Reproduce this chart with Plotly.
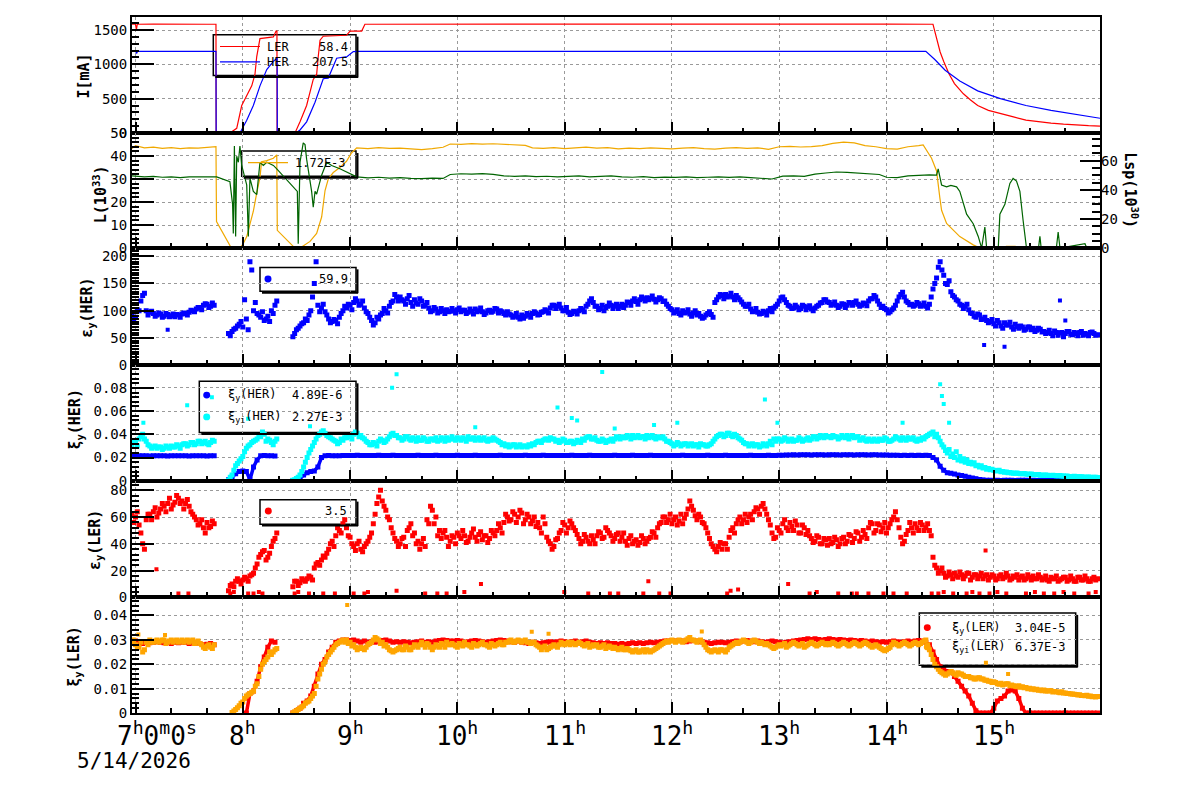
import pandas as pd
import plotly.graph_objects as go

W, H = 1200, 798
FONT = "DejaVu Sans Mono"
BASE = pd.Timestamp("2026-05-14 07:00:00")


def tm(m):
    return BASE + pd.to_timedelta(m, unit="m")


def X(px):
    return px / W


def Y(px):
    return 1 - px / H


# ---------------- panel 1 : beam currents (minutes after 7:00, mA) ----------------
LER_T = [-2, 0, 0.5, 1, 10, 20, 30, 40, 45, 45.1, 52.8, 56.6, 59.4, 62.2, 65, 66.8, 67.8, 69.6, 77.1, 78.6, 79.1,
         79.2, 89.2, 92, 95.7, 99.4, 101.3, 102.2, 103.2, 105, 118, 120, 126.5, 128.3, 180, 240, 300, 360, 420,
         446, 448, 450, 452, 455, 458, 463, 467, 471, 477, 484, 491, 498, 505, 512, 519, 526, 533, 539.4]
LER_I = [1585, 1586, 1505, 1585, 1588, 1584, 1586, 1585, 1585, 0, 0, 67, 400, 543, 686, 853, 1114, 1376, 1400, 1486,
         1486, 0, 0, 162, 400, 781, 853, 1114, 1353, 1410, 1424, 1486, 1486, 1585, 1587, 1585, 1586, 1584, 1586,
         1585, 1400, 1180, 1043, 860, 720, 571, 480, 400, 330, 286, 235, 186, 160, 143, 128, 114, 106, 100]
HER_T = [-2, 0, 0.7, 1.2, 45, 45.1, 58.4, 62.2, 65.9, 69.6, 73.4, 77.1, 79, 79.2, 79.3, 89.8, 92, 95.7, 100.4, 105,
         107.8, 112.5, 118.4, 121.8, 125, 442, 447, 452.8, 461, 471, 483.7, 498, 512, 526, 539.4]
HER_I = [1190, 1190, 1165, 1190, 1190, 0, 0, 186, 400, 686, 924, 1043, 1086, 1086, 0, 0, 43, 162, 448, 790,
         800, 1090, 1114, 1186, 1190, 1190, 1071, 914, 757, 614, 500, 400, 329, 271, 214]

# ---------------- panel 2 : luminosity (left) and specific luminosity (right) ----------------
LUM_T = [-2, 0, 5, 10, 15, 20, 25, 30, 35, 40, 45, 45.3, 53.6, 58.4, 60.3, 62.2, 64, 65.9, 67.8, 69.6, 70.5, 73.4,
         77.1, 79, 79.3, 89.2, 92, 97.6, 101.3, 104.1, 106, 107.8, 110.6, 114.3, 118, 120.8, 123.7, 130, 136, 142,
         148, 154, 160, 166, 172, 176, 182, 188, 194, 200, 206, 212, 218, 222, 228, 234, 240, 246, 252, 258, 264,
         270, 276, 282, 288, 294, 300, 306, 312, 318, 324, 330, 336, 342, 348, 354, 360, 366, 372, 378, 384, 390,
         396, 402, 408, 414, 420, 426, 432, 438, 440.5, 445.2, 448, 449.8, 450.8, 453.6, 461, 468.5, 472.2, 485,
         487, 492, 494.6, 539.4]
LUM = [43.2, 44.5, 43.5, 43.8, 43.3, 43.6, 43.2, 43.5, 43.4, 43.6, 44.0, 11.5, 0, 0, 2, 5, 10, 16, 24, 30.6, 37.5,
       38, 39, 40.5, 7.7, 0, 0, 2.9, 6.4, 13.5, 25, 30, 32.8, 35, 37.7, 41.3, 43.5, 43.2, 43.6, 43.3,
       43.4, 43.0, 42.8, 43.2, 43.8, 45.2, 45.0, 45.4, 45.1, 45.3, 45.0, 44.8, 44.6, 43.5, 43.3, 43.6, 43.2, 43.5,
       43.8, 43.4, 43.6, 43.1, 43.4, 43.2, 43.5, 43.3, 43.1, 43.4, 43.6, 43.2, 43.0, 43.4, 43.6, 43.3, 43.5, 42.9,
       44.0, 44.2, 43.9, 44.1, 44.5, 45.5, 46.0, 45.7, 44.5, 44.0, 43.2, 43.0, 44.0, 44.5, 44.8, 39, 33.5, 22,
       16.4, 10.7, 5, 1.4, 0, 0, 0.8, 0.8, 0, 0]
LSP_T = [-2, 5, 10, 15, 20, 25, 30, 35, 40, 45.4, 52.8, 54.3, 54.7, 55.3, 56, 56.6, 57.5, 58.4, 59.4, 60.3, 62.2,
         63.1, 64, 65.9, 67.8, 69.6, 71.5, 73.4, 77.1, 79, 90.5, 91, 92, 93.8, 94.8, 95.7, 97.6, 98.5, 99.4, 100.4,
         101.3, 104.1, 106.9, 109.7, 114.3, 119.9, 123.7, 130, 136, 142, 148, 154, 160, 166, 172, 176, 182, 188,
         194, 200, 206, 212, 218, 224, 230, 236, 242, 248, 254, 260, 266, 272, 278, 284, 290, 296, 302, 308, 314,
         320, 326, 332, 338, 344, 350, 356, 362, 368, 374, 380, 386, 392, 398, 404, 410, 416, 420, 426, 432, 438,
         444, 448, 448.9, 450.8, 453.6, 456, 459.2, 461, 464.8, 468.5, 471.3, 473.2, 475, 476, 482.5, 483.4,
         486.2, 489, 490.8, 492.7, 494.6, 496.4, 498.3, 505, 505.8, 506.5, 515, 516, 517, 531, 532, 539.4]
LSP = [49.5, 48.8, 49.2, 48.6, 48.9, 48.4, 48.8, 49.0, 48.7, 48.9, 45.6, 30, 10, 70, 8, 63, 58.9, 70, 56.7, 52.2,
       43.3, 8, 48, 38.9, 36.7, 58.9, 56.7, 58.9, 56.7, 54.4, 38.9, 3, 58.9, 72.2, 71, 61, 45.6, 38.9, 28, 38.9,
       37, 50, 58.9, 56.7, 54.4, 51, 48.9, 48.2, 48.6, 48.0, 48.4, 47.8, 47.6, 48.0, 47.8, 50.5, 51.0, 50.8,
       51.1, 50.6, 49.6, 49.2, 49.5, 49.0, 49.3, 48.8, 49.4, 49.6, 48.9, 49.2, 49.5, 48.8, 48.6, 49.0, 48.4, 48.7,
       48.5, 48.9, 48.4, 48.6, 48.9, 48.5, 48.8, 48.3, 47.6, 47.4, 49.4, 49.6, 49.2, 50.8, 51.5, 52.2, 52.0, 51.6,
       51.2, 50.5, 48.6, 48.4, 49.6, 50.0, 50.2, 50.0, 54.4, 43.3, 42, 43, 42, 38.9, 23.3, 16.7, 8, 0, 14.4, 0, 0,
       23.3, 30, 44.4, 47.8, 46, 38.9, 18.9, 0, 0, 8, 0, 0, 11, 0, 3, 0, 0]

# ---------------- panels 3-6 : samples at even minutes (A) and odd minutes (B) ----------------
GRID_A = list(range(-2, 539, 2))
GRID_B = list(range(-1, 538, 2))

EPS_HER = [
    96, 88, 100, 128, 100, 97, 95, 92, 94, 90, 93, 91, 89, 92, 94,
    95, 97, 100, 103, 106, 110, 112, 108, 110, None, None, None, 58, 62, 68,
    75, 70, 85, 190, 100, 95, 88, 82, 90, 100, 110, None, None, None, None,
    52, 65, 72, 78, 82, 100, 150, 110, 105, 98, 85, 80, 82, 88, 100,
    105, 110, 115, 118, 112, 105, 95, 82, 78, 85, 95, 100, 108, 118, 125,
    125, 118, 122, 115, 120, 112, 118, 110, 105, 100, 103, 98, 100, 102, 99,
    100, 102, 98, 101, 97, 99, 103, 100, 98, 96, 101, 99, 103, 100, 95,
    98, 92, 90, 88, 92, 90, 92, 95, 96, 93, 98, 100, 105, 110, 108,
    105, 100, 97, 95, 98, 100, 102, 108, 118, 115, 108, 104, 100, 108, 110,
    108, 104, 112, 110, 115, 118, 117, 120, 122, 124, 123, 121, 120, 122, 118,
    108, 102, 98, 95, 100, 97, 94, 96, 92, 90, 88, 95, 93, 115, 125,
    128, 130, 127, 125, 128, 120, 112, 108, 103, 99, 97, 95, 97, 100, 98,
    108, 118, 125, 115, 108, 105, 107, 104, 108, 106, 103, 105, 110, 115, 120,
    115, 112, 110, 108, 112, 110, 114, 115, 112, 110, 113, 118, 122, 125, 112,
    108, 102, 98, 105, 118, 130, 125, 115, 112, 110, 113, 110, 108, 112, 140,
    160, 190, 165, 148, 135, 125, 118, 110, 108, 102, 95, 88, 92, 85, 82,
    80, 76, 82, 72, 78, 74, 70, 75, 68, 70, 66, 70, 68, 64, 66,
    62, 60, 58, 63, 55, 60, 58, 62, 56, 58, 60, 55, 57, 60, 58,
    56]
EPS_HER_B = [
    84, 102, 118, 132, 92, 99, 90, 96, 88, 95, 89, 94, 93, 88, 96,
    92, 101, 98, 106, 102, 113, 106, 114, None, None, None, None, 54, 66, 72,
    80, 120, 65, 175, 115, 92, 98, 85, 80, 95, 118, None, None, None, None,
    58, 68, 76, 85, 92, 125, 190, 98, 112, 92, 78, 84, 76, 95, 108,
    112, 102, 122, 110, 118, 98, 88, 74, 88, 92, 104, 96, 115, 130, 118,
    120, 112, 128, 108, 114, 122, 108, 115, 98, 106, 96, 104, 95, 98, 104,
    96, 105, 101, 95, 103, 94, 98, 105, 93, 100, 97, 104, 96, 98, 92,
    94, 88, 95, 85, 86, 95, 88, 98, 92, 97, 102, 96, 110, 104, 112,
    100, 106, 93, 99, 94, 104, 98, 112, 122, 108, 102, 110, 106, 114, 104,
    112, 108, 106, 116, 110, 122, 112, 125, 118, 120, 127, 116, 124, 117, 112,
    104, 96, 102, 92, 96, 102, 90, 100, 95, 86, 92, 98, 88, 120, 130,
    122, 125, 132, 120, 124, 116, 108, 112, 98, 104, 94, 99, 92, 104, 105,
    112, 124, 120, 110, 104, 110, 102, 110, 102, 109, 100, 108, 114, 120, 116,
    110, 116, 106, 113, 106, 115, 110, 118, 108, 114, 109, 122, 128, 118, 106,
    104, 96, 102, 110, 125, 134, 118, 111, 108, 115, 108, 114, 105, 125, 150,
    180, 175, 150, 155, 128, 120, 112, 104, 112, 96, 90, 94, 84, 88, 78,
    84, 72, 78, 68, 74, 79, 66, 71, 72, 64, 70, 65, 62, 68, 61,
    58, 64, 54, 60, 59, 52, 62, 57, 60, 54, 62, 58, 54, 61, 55]

XI_HER = [
    0.0215, 0.0214, 0.0215, 0.0216, 0.0215, 0.0214, 0.0215, 0.0215, 0.0216, 0.0215, 0.0214, 0.0215, 0.0215, 0.0216, 0.0215,
    0.0215, 0.0214, 0.0215, 0.0215, 0.0216, 0.0215, 0.0214, 0.0215, 0.0215, None, None, None, 0.001, 0.003, 0.006,
    0.008, 0.0085, 0.008, 0.001, 0.012, 0.018, 0.0215, 0.0218, 0.0216, 0.0215, 0.0214, None, None, None, None,
    0.0, 0.001, 0.002, 0.005, 0.007, 0.008, 0.0085, 0.012, 0.020, 0.0216, 0.0217, 0.0216, 0.0215, 0.0216, 0.0217,
    0.0218, 0.0217, 0.0218, 0.0219, 0.0218, 0.0217, 0.0218, 0.0217, 0.0218, 0.0219, 0.0218, 0.0217, 0.0218, 0.0219, 0.0218,
    0.0217, 0.0218, 0.0218, 0.0217, 0.0218, 0.0219, 0.0218, 0.0217, 0.0218, 0.0218, 0.0219, 0.0218, 0.0218, 0.0217, 0.0218,
    0.0218, 0.0219, 0.0218, 0.0217, 0.0218, 0.0218, 0.0219, 0.0218, 0.0217, 0.0218, 0.0218, 0.0217, 0.0218, 0.0219, 0.0218,
    0.0217, 0.0218, 0.0218, 0.0217, 0.0218, 0.0219, 0.0218, 0.0218, 0.0217, 0.0218, 0.0219, 0.0218, 0.0217, 0.0218, 0.0218,
    0.0218, 0.0217, 0.0218, 0.0219, 0.0218, 0.0217, 0.0218, 0.0218, 0.0219, 0.0218, 0.0217, 0.0218, 0.0218, 0.0217, 0.0218,
    0.0219, 0.0218, 0.0217, 0.0218, 0.0218, 0.0219, 0.0218, 0.0217, 0.0218, 0.0218, 0.0219, 0.0218, 0.0217, 0.0218, 0.0218,
    0.0218, 0.0217, 0.0218, 0.0218, 0.0219, 0.0218, 0.0217, 0.0218, 0.0218, 0.0217, 0.0218, 0.0219, 0.0218, 0.0217, 0.0218,
    0.0218, 0.0219, 0.0218, 0.0217, 0.0218, 0.0218, 0.0217, 0.0218, 0.0219, 0.0218, 0.0217, 0.0218, 0.0218, 0.0219, 0.0218,
    0.0218, 0.0219, 0.0220, 0.0222, 0.0223, 0.0224, 0.0223, 0.0224, 0.0225, 0.0224, 0.0223, 0.0224, 0.0225, 0.0224, 0.0223,
    0.0224, 0.0225, 0.0224, 0.0223, 0.0224, 0.0225, 0.0224, 0.0223, 0.0224, 0.0225, 0.0224, 0.0223, 0.0224, 0.0224, 0.0223,
    0.0222, 0.0223, 0.0221, 0.0220, 0.0219, 0.0218, 0.0219, 0.0218, 0.0219, 0.0218, 0.0219, 0.0218, 0.0219, 0.0217, 0.0200,
    0.0180, 0.0125, 0.0090, 0.0070, 0.0065, 0.0058, 0.0050, 0.0045, 0.0040, 0.0030, 0.0025, 0.0017, 0.0012, 0.0008, 0.0005,
    0.0004, 0.0003, 0.0004, 0.0003, 0.0004, 0.0005, 0.0004, 0.0003, 0.0004, 0.0005, 0.0004, 0.0003, 0.0004, 0.0003, 0.0004,
    0.0004, 0.0005, 0.0004, 0.0003, 0.0004, 0.0004, 0.0005, 0.0004, 0.0003, 0.0004, 0.0005, 0.0004, 0.0004, 0.0003, 0.0004,
    0.0004]

XIYI_HER = [
    0.031, 0.033, 0.036, 0.040, 0.034, 0.030, 0.029, 0.028, 0.029, 0.028, 0.029, 0.030, 0.029, 0.030, 0.031,
    0.032, 0.031, 0.033, 0.032, 0.034, 0.033, 0.032, 0.033, 0.034, None, None, None, 0.0005, 0.005, 0.013,
    0.017, 0.021, 0.028, 0.031, 0.034, 0.036, 0.038, 0.040, 0.036, 0.033, 0.034, None, None, None, None,
    0.0005, 0.002, 0.005, 0.012, 0.020, 0.027, 0.033, 0.039, 0.042, 0.041, 0.038, 0.036, 0.034, 0.033, 0.035,
    0.037, 0.038, 0.040, 0.041, 0.039, 0.036, 0.033, 0.031, 0.032, 0.034, 0.035, 0.034, 0.038, 0.041, 0.039,
    0.037, 0.036, 0.038, 0.035, 0.036, 0.037, 0.035, 0.036, 0.034, 0.036, 0.037, 0.035, 0.036, 0.037, 0.036,
    0.036, 0.037, 0.035, 0.036, 0.038, 0.036, 0.035, 0.037, 0.036, 0.035, 0.036, 0.037, 0.035, 0.033, 0.032,
    0.031, 0.030, 0.031, 0.030, 0.029, 0.030, 0.031, 0.032, 0.033, 0.034, 0.035, 0.036, 0.037, 0.036, 0.035,
    0.034, 0.035, 0.033, 0.034, 0.033, 0.034, 0.036, 0.037, 0.038, 0.036, 0.035, 0.034, 0.035, 0.034, 0.036,
    0.036, 0.037, 0.038, 0.037, 0.038, 0.039, 0.038, 0.037, 0.038, 0.039, 0.038, 0.037, 0.038, 0.037, 0.036,
    0.034, 0.032, 0.031, 0.032, 0.031, 0.032, 0.031, 0.030, 0.031, 0.032, 0.031, 0.030, 0.032, 0.036, 0.039,
    0.040, 0.039, 0.041, 0.038, 0.039, 0.036, 0.033, 0.032, 0.031, 0.030, 0.031, 0.030, 0.031, 0.032, 0.031,
    0.034, 0.036, 0.035, 0.036, 0.035, 0.034, 0.035, 0.036, 0.035, 0.037, 0.036, 0.038, 0.037, 0.038, 0.039,
    0.038, 0.039, 0.038, 0.037, 0.038, 0.039, 0.038, 0.037, 0.038, 0.036, 0.035, 0.036, 0.034, 0.035, 0.036,
    0.035, 0.036, 0.034, 0.036, 0.037, 0.035, 0.036, 0.037, 0.036, 0.035, 0.036, 0.037, 0.038, 0.040, 0.042,
    0.040, 0.034, 0.029, 0.024, 0.021, 0.020, 0.018, 0.017, 0.016, 0.015, 0.0145, 0.013, 0.012, 0.011, 0.010,
    0.0095, 0.009, 0.0085, 0.0078, 0.0074, 0.007, 0.0068, 0.0065, 0.0062, 0.006, 0.0058, 0.0056, 0.0055, 0.0053, 0.005,
    0.0049, 0.0047, 0.0046, 0.0045, 0.0043, 0.0042, 0.004, 0.0038, 0.0037, 0.0035, 0.0034, 0.0032, 0.0031, 0.003, 0.003,
    0.0029]
XIYI_HER_B = [
    0.033, 0.030, 0.038, 0.036, 0.031, 0.028, 0.030, 0.029, 0.027, 0.030, 0.028, 0.029, 0.031, 0.028, 0.032,
    0.030, 0.033, 0.031, 0.034, 0.032, 0.034, 0.031, 0.035, None, None, None, None, 0.003, 0.009, 0.015,
    0.019, 0.025, 0.030, 0.033, 0.035, 0.039, 0.042, 0.034, 0.035, 0.031, 0.036, None, None, None, None,
    0.001, 0.003, 0.008, 0.016, 0.024, 0.030, 0.036, 0.040, 0.043, 0.039, 0.037, 0.035, 0.032, 0.036, 0.037,
    0.039, 0.036, 0.042, 0.038, 0.037, 0.034, 0.031, 0.033, 0.030, 0.036, 0.033, 0.036, 0.040, 0.039, 0.037,
    0.035, 0.038, 0.036, 0.037, 0.034, 0.035, 0.037, 0.034, 0.036, 0.035, 0.034, 0.037, 0.034, 0.035, 0.038,
    0.035, 0.036, 0.037, 0.034, 0.036, 0.037, 0.036, 0.035, 0.037, 0.034, 0.035, 0.036, 0.034, 0.031, 0.030,
    0.029, 0.031, 0.029, 0.031, 0.030, 0.029, 0.030, 0.031, 0.034, 0.033, 0.036, 0.035, 0.036, 0.034, 0.033,
    0.036, 0.033, 0.034, 0.032, 0.035, 0.033, 0.035, 0.038, 0.036, 0.037, 0.034, 0.036, 0.033, 0.035, 0.034,
    0.038, 0.036, 0.037, 0.039, 0.036, 0.037, 0.039, 0.038, 0.036, 0.037, 0.039, 0.036, 0.037, 0.038, 0.034,
    0.033, 0.030, 0.033, 0.030, 0.032, 0.030, 0.032, 0.031, 0.029, 0.031, 0.030, 0.031, 0.034, 0.038, 0.040,
    0.038, 0.041, 0.039, 0.040, 0.037, 0.035, 0.032, 0.030, 0.032, 0.031, 0.029, 0.032, 0.030, 0.034, 0.036,
    0.036, 0.034, 0.037, 0.034, 0.036, 0.035, 0.037, 0.034, 0.036, 0.035, 0.038, 0.036, 0.039, 0.037, 0.038,
    0.037, 0.038, 0.036, 0.039, 0.037, 0.036, 0.039, 0.038, 0.035, 0.037, 0.034, 0.035, 0.036, 0.034, 0.035,
    0.037, 0.034, 0.035, 0.038, 0.036, 0.037, 0.035, 0.036, 0.037, 0.034, 0.035, 0.036, 0.039, 0.041, 0.038,
    0.037, 0.031, 0.026, 0.027, 0.023, 0.025, 0.021, 0.019, 0.018, 0.016, 0.0155, 0.0135, 0.013, 0.0115, 0.0105,
    0.010, 0.0088, 0.009, 0.008, 0.0076, 0.0072, 0.0066, 0.0068, 0.006, 0.0063, 0.0056, 0.0059, 0.0053, 0.0055, 0.0048,
    0.005, 0.0045, 0.0048, 0.0043, 0.0046, 0.0041, 0.0042, 0.0037, 0.0039, 0.0034, 0.0036, 0.0031, 0.0033, 0.0029, 0.0031]

EPS_LER = [
    62, 60, 54, 40, 58, 62, 64, 60, 66, 68, 70, 66, 71, 74, 72,
    70, 68, 62, 58, 55, 52, 56, 53, 55, None, None, None, 5, 10, 12,
    12, 13, 14, 16, 18, 25, 32, 35, 30, 38, 44, None, None, None, None,
    8, 12, 11, 13, 14, 15, 22, 26, 28, 30, 36, 42, 46, 50, 55,
    52, 45, 38, 40, 36, 38, 42, 48, 62, 75, 72, 65, 58, 48, 42,
    40, 45, 50, 55, 48, 42, 40, 38, 55, 65, 60, 50, 48, 45, 42,
    45, 48, 44, 46, 42, 48, 45, 47, 43, 46, 44, 48, 50, 52, 56,
    60, 58, 62, 60, 63, 58, 60, 57, 53, 52, 60, 45, 40, 38, 44,
    50, 54, 52, 55, 50, 44, 42, 45, 40, 43, 46, 48, 45, 50, 46,
    44, 48, 45, 42, 44, 40, 43, 41, 44, 42, 45, 48, 52, 56, 60,
    58, 55, 60, 57, 55, 62, 72, 65, 58, 60, 55, 48, 40, 36, 38,
    36, 40, 45, 52, 55, 60, 58, 56, 62, 64, 66, 68, 66, 58, 48,
    45, 50, 55, 52, 56, 50, 54, 48, 52, 50, 44, 42, 45, 40, 43,
    44, 41, 43, 40, 45, 42, 46, 44, 48, 45, 47, 52, 55, 50, 54,
    52, 48, 55, 60, 58, 45, 42, 50, 52, 55, 50, 54, 52, 50, 30,
    22, 20, 18, 16, 17, 18, 15, 17, 16, 18, 15, 17, 16, 14, 17,
    15, 16, 14, 17, 15, 16, 14, 15, 13, 16, 14, 15, 16, 14, 15,
    14, 13, 15, 14, 12, 14, 15, 13, 14, 12, 15, 13, 14, 12, 15,
    14]
EPS_LER_B = [
    56, 64, 48, 36, 62, 58, 67, 63, 70, 64, 74, 69, 76, 70, 66,
    73, 64, 60, 54, 58, 48, 52, 57, None, None, None, None, 9, 8, 14,
    10, 15, 12, 17, 22, 30, 34, 28, 33, 42, 48, None, None, None, None,
    12, 9, 14, 12, 16, 13, 25, 24, 31, 33, 40, 38, 52, 48, 58,
    46, 40, 35, 42, 34, 40, 45, 55, 70, 80, 68, 60, 52, 44, 38,
    44, 38, 52, 46, 40, 36, 44, 58, 68, 55, 46, 44, 50, 38, 46,
    40, 46, 50, 41, 45, 51, 42, 49, 46, 41, 50, 46, 55, 48, 62,
    57, 64, 56, 65, 55, 62, 55, 60, 56, 48, 55, 42, 36, 43, 48,
    56, 48, 57, 52, 47, 40, 47, 42, 46, 40, 49, 44, 52, 48, 42,
    47, 42, 48, 39, 46, 42, 39, 46, 40, 44, 49, 45, 55, 60, 56,
    62, 58, 54, 62, 59, 66, 68, 61, 62, 56, 52, 44, 38, 34, 41,
    40, 36, 50, 48, 58, 55, 62, 60, 58, 67, 62, 70, 62, 54, 44,
    52, 48, 58, 50, 53, 57, 48, 54, 47, 46, 41, 46, 40, 44, 39,
    40, 45, 38, 44, 40, 47, 41, 49, 42, 50, 44, 56, 48, 55, 49,
    56, 52, 58, 64, 52, 40, 47, 56, 48, 52, 56, 50, 55, 46, 24,
    18, 22, 15, 19, 14, 16, 19, 14, 18, 13, 17, 14, 18, 16, 13,
    17, 13, 16, 14, 18, 13, 16, 17, 15, 13, 17, 13, 14, 17, 13,
    16, 12, 14, 16, 13, 15, 12, 16, 12, 15, 13, 16, 12, 14, 13]

XI_LER = [
    0.029, 0.0295, 0.029, 0.0285, 0.029, 0.0288, 0.029, 0.0292, 0.029, 0.0288, 0.029, 0.0285, 0.029, 0.0288, 0.029,
    0.029, 0.0285, 0.0288, 0.029, 0.0285, 0.028, 0.0282, 0.0285, 0.028, None, None, None, None, None, None,
    None, None, 0.0, 0.008, 0.009, 0.013, 0.019, 0.023, 0.027, 0.0295, 0.029, None, None, None, None,
    0.0, 0.001, 0.002, 0.004, 0.005, 0.007, 0.011, 0.016, 0.020, 0.022, 0.025, 0.027, 0.029, 0.0295, 0.030,
    0.030, 0.0298, 0.030, 0.0295, 0.029, 0.0295, 0.029, 0.0292, 0.029, 0.0295, 0.0298, 0.030, 0.0295, 0.029, 0.0292,
    0.029, 0.0292, 0.029, 0.0288, 0.029, 0.0292, 0.0295, 0.029, 0.0292, 0.029, 0.0295, 0.0298, 0.030, 0.0298, 0.0295,
    0.0295, 0.0298, 0.0295, 0.029, 0.0292, 0.0295, 0.0298, 0.0295, 0.0292, 0.029, 0.0292, 0.0295, 0.0298, 0.030, 0.0298,
    0.0295, 0.0292, 0.029, 0.0295, 0.029, 0.0288, 0.0285, 0.029, 0.0288, 0.0285, 0.0288, 0.029, 0.0292, 0.029, 0.0292,
    0.0295, 0.0292, 0.029, 0.0292, 0.0295, 0.029, 0.0292, 0.0295, 0.029, 0.0288, 0.0285, 0.0288, 0.0285, 0.0288, 0.0285,
    0.0285, 0.0282, 0.0285, 0.0282, 0.0285, 0.0288, 0.0285, 0.0288, 0.0285, 0.0288, 0.029, 0.0288, 0.029, 0.0292, 0.0295,
    0.0295, 0.0298, 0.0295, 0.0298, 0.0295, 0.0292, 0.0295, 0.0298, 0.0295, 0.0292, 0.029, 0.0288, 0.0285, 0.0288, 0.029,
    0.029, 0.0288, 0.029, 0.0292, 0.0295, 0.0292, 0.0295, 0.0298, 0.0295, 0.0292, 0.0295, 0.0292, 0.029, 0.0292, 0.0295,
    0.0292, 0.029, 0.0288, 0.029, 0.0292, 0.0295, 0.0298, 0.030, 0.0302, 0.0305, 0.0302, 0.0305, 0.0302, 0.030, 0.0302,
    0.0305, 0.0302, 0.030, 0.0302, 0.030, 0.0298, 0.030, 0.0298, 0.0295, 0.0298, 0.0295, 0.0292, 0.0295, 0.0292, 0.029,
    0.0292, 0.029, 0.0292, 0.0295, 0.0292, 0.029, 0.0292, 0.0295, 0.0292, 0.0295, 0.0298, 0.0295, 0.029, 0.028, 0.025,
    0.022, 0.019, 0.018, 0.017, 0.017, 0.015, 0.013, 0.011, 0.009, 0.007, 0.004, 0.001, 0.0, 0.0, 0.0,
    0.0, 0.002, 0.005, 0.006, 0.007, 0.009, 0.0095, 0.009, 0.006, 0.002, 0.0, 0.0, 0.0, 0.0, 0.0,
    0.0, 0.0, 0.0, 0.0, 0.0, 0.0, 0.0, 0.0, 0.0, 0.0, 0.0, 0.0, 0.0, 0.0, 0.0,
    0.0]

XIYI_LER = [
    0.029, 0.028, 0.027, 0.025, 0.029, 0.030, 0.029, 0.030, 0.0295, 0.030, 0.029, 0.030, 0.0295, 0.029, 0.030,
    0.0295, 0.029, 0.030, 0.029, 0.0285, 0.027, 0.0275, 0.027, 0.028, None, None, None, None, 0.0002, 0.0015,
    0.003, 0.0045, 0.007, 0.008, 0.009, 0.012, 0.018, 0.021, 0.023, 0.024, 0.026, None, None, None, None,
    0.0, 0.001, 0.002, 0.003, 0.0045, 0.006, 0.008, 0.014, 0.018, 0.021, 0.024, 0.026, 0.028, 0.029, 0.030,
    0.030, 0.029, 0.028, 0.026, 0.027, 0.026, 0.028, 0.029, 0.031, 0.030, 0.029, 0.028, 0.026, 0.025, 0.026,
    0.027, 0.026, 0.027, 0.026, 0.028, 0.027, 0.029, 0.027, 0.028, 0.026, 0.028, 0.027, 0.028, 0.029, 0.028,
    0.028, 0.027, 0.028, 0.029, 0.028, 0.027, 0.028, 0.028, 0.029, 0.028, 0.027, 0.028, 0.028, 0.029, 0.028,
    0.029, 0.030, 0.029, 0.030, 0.029, 0.030, 0.029, 0.029, 0.028, 0.027, 0.027, 0.026, 0.027, 0.028, 0.027,
    0.029, 0.028, 0.029, 0.029, 0.028, 0.029, 0.028, 0.028, 0.027, 0.028, 0.028, 0.027, 0.028, 0.027, 0.027,
    0.027, 0.026, 0.027, 0.026, 0.026, 0.025, 0.026, 0.025, 0.026, 0.026, 0.025, 0.026, 0.027, 0.028, 0.029,
    0.029, 0.030, 0.029, 0.030, 0.029, 0.030, 0.031, 0.030, 0.029, 0.030, 0.028, 0.026, 0.025, 0.026, 0.025,
    0.026, 0.025, 0.027, 0.028, 0.029, 0.029, 0.030, 0.029, 0.029, 0.030, 0.029, 0.029, 0.028, 0.028, 0.027,
    0.027, 0.028, 0.028, 0.027, 0.028, 0.029, 0.028, 0.028, 0.027, 0.028, 0.029, 0.028, 0.028, 0.029, 0.028,
    0.028, 0.029, 0.028, 0.028, 0.029, 0.028, 0.028, 0.029, 0.028, 0.028, 0.029, 0.028, 0.027, 0.028, 0.027,
    0.026, 0.026, 0.027, 0.029, 0.028, 0.028, 0.029, 0.028, 0.028, 0.029, 0.028, 0.029, 0.030, 0.026, 0.022,
    0.019, 0.017, 0.016, 0.016, 0.017, 0.016, 0.0165, 0.016, 0.015, 0.015, 0.0145, 0.014, 0.0145, 0.014, 0.0135,
    0.013, 0.0128, 0.012, 0.0122, 0.0118, 0.012, 0.0115, 0.011, 0.0112, 0.0108, 0.0105, 0.0102, 0.010, 0.0098, 0.0095,
    0.0095, 0.009, 0.0092, 0.0088, 0.0085, 0.0087, 0.0082, 0.008, 0.0078, 0.0076, 0.0075, 0.0072, 0.0073, 0.007, 0.0068,
    0.0068]
XIYI_LER_B = [
    0.030, 0.027, 0.029, 0.026, 0.028, 0.029, 0.0295, 0.029, 0.030, 0.0285, 0.0295, 0.029, 0.030, 0.0295, 0.029,
    0.030, 0.0295, 0.0285, 0.0295, 0.028, 0.0265, 0.028, 0.0265, None, None, None, None, None, 0.0008, 0.0022,
    0.004, 0.006, 0.0075, 0.0085, 0.011, 0.015, 0.020, 0.022, 0.025, 0.025, 0.0265, None, None, None, None,
    0.0005, 0.0015, 0.0025, 0.004, 0.005, 0.007, 0.011, 0.016, 0.020, 0.023, 0.025, 0.027, 0.0285, 0.0295, 0.029,
    0.0285, 0.0275, 0.027, 0.0265, 0.0265, 0.027, 0.0285, 0.030, 0.0305, 0.0285, 0.0275, 0.027, 0.0255, 0.0255, 0.0265,
    0.026, 0.0275, 0.026, 0.027, 0.0275, 0.028, 0.028, 0.0285, 0.027, 0.027, 0.0275, 0.0285, 0.027, 0.028, 0.0285,
    0.0275, 0.0285, 0.0275, 0.028, 0.0275, 0.0285, 0.0275, 0.0285, 0.028, 0.0275, 0.0285, 0.0275, 0.0285, 0.028, 0.029,
    0.0295, 0.029, 0.0295, 0.0295, 0.0295, 0.029, 0.0285, 0.029, 0.0275, 0.026, 0.0275, 0.0265, 0.0275, 0.0275, 0.028,
    0.0285, 0.0285, 0.028, 0.0285, 0.0285, 0.0285, 0.0275, 0.0285, 0.0275, 0.0275, 0.027, 0.0275, 0.0265, 0.0275, 0.0265,
    0.0265, 0.0265, 0.026, 0.0265, 0.0255, 0.0255, 0.025, 0.0255, 0.025, 0.0255, 0.0255, 0.0265, 0.0275, 0.0285, 0.0295,
    0.0295, 0.0295, 0.0295, 0.0295, 0.0295, 0.0305, 0.030, 0.0295, 0.0295, 0.029, 0.027, 0.0255, 0.0255, 0.0255, 0.026,
    0.0255, 0.026, 0.0275, 0.0285, 0.0285, 0.0295, 0.0295, 0.0285, 0.0295, 0.0295, 0.0285, 0.0285, 0.0285, 0.0275, 0.0265,
    0.0275, 0.0275, 0.0285, 0.0275, 0.0285, 0.0285, 0.0275, 0.0285, 0.0275, 0.0285, 0.0285, 0.0275, 0.0285, 0.0285, 0.0285,
    0.0285, 0.0285, 0.0275, 0.0285, 0.0285, 0.0275, 0.0285, 0.0285, 0.0275, 0.0285, 0.0285, 0.0275, 0.0275, 0.0275, 0.0265,
    0.0255, 0.0265, 0.028, 0.0285, 0.0275, 0.0285, 0.0285, 0.0275, 0.0285, 0.0285, 0.0285, 0.0295, 0.028, 0.024, 0.020,
    0.018, 0.0165, 0.0155, 0.0165, 0.0165, 0.0155, 0.016, 0.0155, 0.015, 0.0145, 0.014, 0.0145, 0.014, 0.0135, 0.013,
    0.0125, 0.0125, 0.0118, 0.0115, 0.012, 0.0112, 0.0112, 0.0108, 0.0106, 0.0104, 0.010, 0.0098, 0.0096, 0.0094, 0.0092,
    0.009, 0.0092, 0.0086, 0.0087, 0.0083, 0.0082, 0.008, 0.0078, 0.0077, 0.0074, 0.0072, 0.0071, 0.0069, 0.0067, 0.0066]

# isolated outlier points
EPS_HER_OUT_T = [18, 474.6, 486, 517, 520]
EPS_HER_OUT = [65, 37, 34, 119, 82]
XIYI_HER_OUT_T = [4.4, 28.9, 42.7, 63, 97.6, 143.5, 146, 190, 236, 244, 247, 261, 268, 290, 303, 352, 359, 429,
                  450, 451, 452, 455]
XIYI_HER_OUT = [0.05, 0.065, 0.072, 0.0535, 0.047, 0.080, 0.0917, 0.046, 0.063, 0.054, 0.052, 0.0936, 0.045, 0.048,
                0.05, 0.070, 0.05, 0.05, 0.083, 0.073, 0.066, 0.05]
EPS_LER_OUT_T = [11.7, 24, 29.6, 53, 55, 63, 66, 69, 71, 89, 91, 97, 105, 111.5, 122, 128, 130, 146, 162, 168.8,
                 174, 183.9, 193.2, 239.8, 253.2, 265.3, 270, 284, 286.8, 292.9, 299.2, 330.9, 332.8, 337, 365, 377,
                 381, 393, 400.6, 403.4, 409.9, 418.3, 423.9, 431.3, 445.3, 449, 452, 457.3, 464.8, 468, 472,
                 475.4, 477.6, 482, 487, 498, 503, 508, 513.8, 519, 525, 533, 537]
EPS_LER_OUT = [21, 3, 3, 3, 4, 3, 3, 4, 3, 3, 4, 3, 3, 3, 3, 3, 4, 5, 3, 3,
               3, 4, 10, 4, 3, 3, 3, 3, 12, 3, 3, 3, 5, 6, 10, 3,
               4, 3, 3, 3, 3, 3, 3, 3, 3, 3, 4, 3, 3, 4, 3,
               35, 3, 4, 3, 3, 4, 3, 3, 4, 3, 3, 4]
XIYI_LER_OUT_T = [1.6, 16.5, 118.4, 221.6, 231, 316.7, 475.6, 488]
XIYI_LER_OUT = [0.0322, 0.032, 0.0443, 0.0333, 0.0325, 0.0334, 0.0206, 0.016]

# ---------------- layout geometry (pixels) ----------------
TOPS = [9.5, 127.5, 245, 364.5, 482.5, 601.5]
BOTS = [127.5, 245, 364.5, 482.5, 601.5, 719.5]
XDOM = [X(132), X(1100)]
XR = [str(tm(-1.96)), str(tm(539.4))]
GRIDC = "#9a9a9a"
GRIDD = "3px,3px"

fig = go.Figure()
TA = tm(GRID_A)
TB = tm(GRID_B)

fig.add_trace(go.Scatter(x=tm(LER_T), y=LER_I, mode="lines", line=dict(color="#ff0000", width=1.2),
                         xaxis="x", yaxis="y"))
fig.add_trace(go.Scatter(x=tm(HER_T), y=HER_I, mode="lines", line=dict(color="#0000ff", width=1.2),
                         xaxis="x", yaxis="y"))
fig.add_trace(go.Scatter(x=tm(LSP_T), y=LSP, mode="lines", line=dict(color="#006400", width=1.2),
                         xaxis="x2", yaxis="y7"))
fig.add_trace(go.Scatter(x=tm(LUM_T), y=LUM, mode="lines", line=dict(color="#f0a800", width=1.2),
                         xaxis="x2", yaxis="y2"))

MK = dict(symbol="square", size=5, line=dict(width=0))


def pts(x, y, color, xa, ya, size=5):
    fig.add_trace(go.Scatter(x=x, y=y, mode="markers", marker=dict(MK, color=color, size=size), xaxis=xa, yaxis=ya))


pts(TA, EPS_HER, "#0000ff", "x3", "y3")
pts(TB, EPS_HER_B, "#0000ff", "x3", "y3")
pts(tm(EPS_HER_OUT_T), EPS_HER_OUT, "#0000ff", "x3", "y3", 4)

fig.add_trace(go.Scatter(x=TA, y=XI_HER, mode="lines+markers", line=dict(color="#0000ff", width=3.5),
                         marker=dict(MK, color="#0000ff"), xaxis="x4", yaxis="y4"))
pts(TA, XIYI_HER, "#00ffff", "x4", "y4")
pts(TB, XIYI_HER_B, "#00ffff", "x4", "y4")
pts(tm(XIYI_HER_OUT_T), XIYI_HER_OUT, "#00ffff", "x4", "y4", 4)

pts(TA, EPS_LER, "#ff0000", "x5", "y5")
pts(TB, EPS_LER_B, "#ff0000", "x5", "y5")
pts(tm(EPS_LER_OUT_T), EPS_LER_OUT, "#ff0000", "x5", "y5", 4)

fig.add_trace(go.Scatter(x=TA, y=XI_LER, mode="lines+markers", line=dict(color="#ff0000", width=3.5),
                         marker=dict(MK, color="#ff0000"), xaxis="x6", yaxis="y6"))
pts(TA, XIYI_LER, "#ffa500", "x6", "y6")
pts(TB, XIYI_LER_B, "#ffa500", "x6", "y6")
pts(tm(XIYI_LER_OUT_T), XIYI_LER_OUT, "#ffa500", "x6", "y6", 4)

layout = dict(width=W, height=H, margin=dict(l=0, r=0, t=0, b=0), paper_bgcolor="white", plot_bgcolor="white",
              showlegend=False, font=dict(family=FONT, color="black"))

for i in range(6):
    k = "" if i == 0 else str(i + 1)
    layout["xaxis" + k] = dict(
        type="date", range=XR, domain=XDOM, anchor="y" + k, matches=None if i == 0 else "x",
        showline=True, linecolor="black", linewidth=2, mirror=True,
        ticks="inside", ticklen=11, tickwidth=2, tickcolor="black",
        dtick=3600000, tick0="2026-05-14 00:00:00", showticklabels=False,
        showgrid=True, gridcolor=GRIDC, griddash=GRIDD, gridwidth=1, zeroline=False,
        minor=dict(ticks="inside", ticklen=5, tickwidth=1.5, tickcolor="black", dtick=1200000, showgrid=False))

Y_RANGES = [[0, 1686], [0, 50], [0, 215], [0, 0.0995], [0, 87], [0, 0.0474]]
Y_DT = [500, 10, 50, 0.02, 20, 0.01]
Y_MDT = [100, 2, 5, 0.004, 4, 0.002]
for i in range(6):
    k = "" if i == 0 else str(i + 1)
    layout["yaxis" + k] = dict(
        domain=[Y(BOTS[i]), Y(TOPS[i])], range=Y_RANGES[i], anchor="x" + k,
        showline=True, linecolor="black", linewidth=2, mirror=True,
        ticks="inside", ticklen=22, tickwidth=2, tickcolor="black", dtick=Y_DT[i], tick0=0,
        tickfont=dict(family=FONT, size=14, color="black"),
        showgrid=True, gridcolor=GRIDC, griddash=GRIDD, gridwidth=1, zeroline=False,
        minor=dict(ticks="inside", ticklen=7, tickwidth=1.5, tickcolor="black", dtick=Y_MDT[i], tick0=0,
                   showgrid=False))
layout["yaxis7"] = dict(
    overlaying="y2", side="right", anchor="x2", range=[0, 79], showline=False,
    ticks="inside", ticklen=20, tickwidth=2, tickcolor="black", dtick=20, tick0=0,
    tickfont=dict(family=FONT, size=14, color="black"), showgrid=False, zeroline=False,
    minor=dict(ticks="inside", ticklen=8, tickwidth=1.5, tickcolor="black", dtick=5, tick0=0))
fig.update_layout(**layout)

# ---------------- legends (ROOT style boxes with shadow) ----------------
shapes = []
annos = []


def box(x0, y0, x1, y1):
    shapes.append(dict(type="rect", xref="paper", yref="paper", x0=X(x0), x1=X(x1), y0=Y(y1), y1=Y(y0),
                       line=dict(color="black", width=1.5), fillcolor="rgba(0,0,0,0)", layer="below"))
    shapes.append(dict(type="line", xref="paper", yref="paper", x0=X(x0 + 2), x1=X(x1 + 2), y0=Y(y1 + 1.5),
                       y1=Y(y1 + 1.5), line=dict(color="black", width=2)))
    shapes.append(dict(type="line", xref="paper", yref="paper", x0=X(x1 + 1.5), x1=X(x1 + 1.5), y0=Y(y0 + 2),
                       y1=Y(y1 + 2), line=dict(color="black", width=2)))


def seg(x0, x1, y, color):
    shapes.append(dict(type="line", xref="paper", yref="paper", x0=X(x0), x1=X(x1), y0=Y(y), y1=Y(y),
                       line=dict(color=color, width=1.2)))


def dot(cx, cy, color, r=3.5):
    shapes.append(dict(type="circle", xref="paper", yref="paper", x0=X(cx - r), x1=X(cx + r), y0=Y(cy + r),
                       y1=Y(cy - r), line=dict(width=0), fillcolor=color))


def txt(x, y, s, anchor="left", size=12):
    annos.append(dict(xref="paper", yref="paper", x=X(x), y=Y(y), text=s, showarrow=False, xanchor=anchor,
                      yanchor="middle", font=dict(family=FONT, size=size, color="black")))


box(213.3, 27.3, 356, 69)
seg(220, 260, 39.3, "#ff0000")
seg(220, 260, 55, "#0000ff")
txt(265, 39.3, "LER")
txt(265, 55, "HER")
txt(350, 39.3, "58.4", "right")
txt(350, 55, "207.5", "right")

box(241.7, 146, 356, 171.7)
seg(248, 288, 157.7, "#f0a800")
txt(348, 158.5, "1.72E-3", "right")

box(260, 264.7, 356, 289)
dot(268, 276.5, "#0000ff")
txt(349.5, 276.5, "59.9", "right")

box(199.3, 381, 356, 433.3)
dot(206.7, 395, "#0000ff")
dot(206.7, 417.3, "#00ffff")
txt(226, 395, "ξ<sub>y</sub>(HER)")
txt(345, 395, "4.89E-6", "right")
txt(226, 417.3, "ξ<sub>yi</sub>(HER)")
txt(345, 417.3, "2.27E-3", "right")

box(260, 501.7, 356, 526.7)
dot(268.3, 513.3, "#ff0000")
txt(349.3, 513.3, "3.5", "right")

box(919.3, 617.3, 1075.7, 670.7)
dot(927.3, 632.3, "#ff0000")
dot(927.3, 652, "#ffa500")
txt(950, 632.3, "ξ<sub>y</sub>(LER)")
txt(1068, 632.3, "3.04E-5", "right")
txt(950, 652, "ξ<sub>yi</sub>(LER)")
txt(1068, 652, "6.37E-3", "right")


# ---------------- axis titles ----------------
def ytitle(x, y, s, angle=-90):
    annos.append(dict(xref="paper", yref="paper", x=X(x), y=Y(y), text="<b>" + s + "</b>", showarrow=False,
                      textangle=angle, xanchor="center", yanchor="middle",
                      font=dict(family=FONT, size=15, color="black")))


ytitle(84, 70, "I[mA]")
ytitle(100, 190, "L(10<sup>33</sup>)")
ytitle(1131, 186, "Lsp(10<sup>30</sup>)", 90)
ytitle(88, 306, "ε<sub>y</sub>(HER)")
ytitle(76, 420, "ξ<sub>y</sub>(HER)")
ytitle(95, 543, "ε<sub>y</sub>(LER)")
ytitle(75, 662, "ξ<sub>y</sub>(LER)")

# ---------------- time labels ----------------
HOURS = [8, 9, 10, 11, 12, 13, 14, 15]
for h in HOURS:
    annos.append(dict(xref="x6", yref="paper", x=str(tm((h - 7) * 60)), y=Y(741), text=f"{h}<sup>h</sup>",
                      showarrow=False, xanchor="center", yanchor="middle",
                      font=dict(family=FONT, size=26, color="black")))
annos.append(dict(xref="paper", yref="paper", x=X(115), y=Y(741), text="7<sup>h</sup>0<sup>m</sup>0<sup>s</sup>",
                  showarrow=False, xanchor="left", yanchor="middle", font=dict(family=FONT, size=26, color="black")))
annos.append(dict(xref="paper", yref="paper", x=X(134), y=Y(768), text="5/14/2026", showarrow=False,
                  xanchor="center", yanchor="middle", font=dict(family=FONT, size=21, color="black")))

fig.update_layout(shapes=shapes, annotations=annos)
fig.write_html("out.html")
